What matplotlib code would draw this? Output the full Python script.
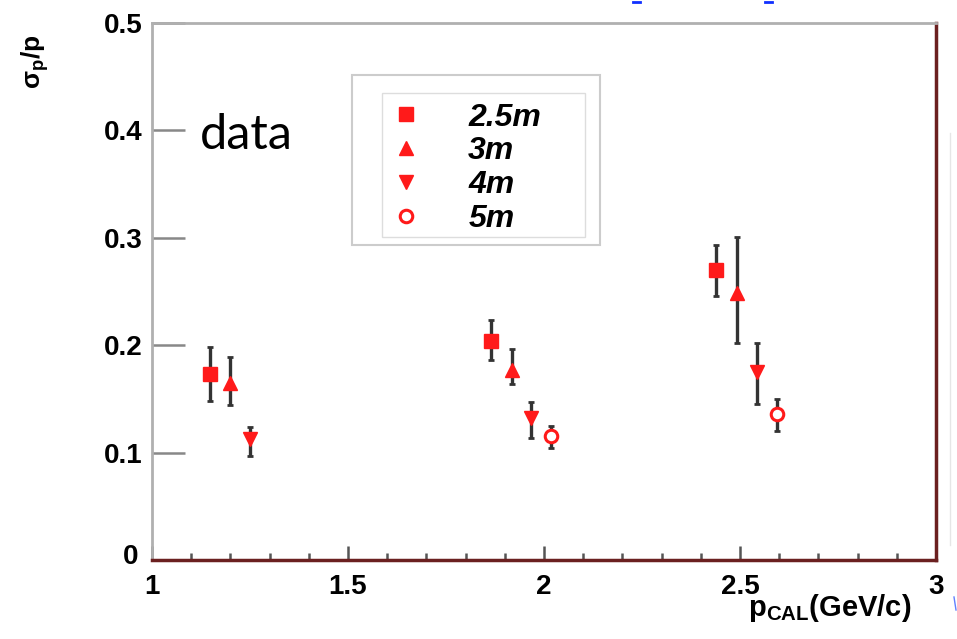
import matplotlib
matplotlib.use("Agg")
import matplotlib.pyplot as plt
from matplotlib.lines import Line2D
from matplotlib.patches import Rectangle
from matplotlib.ticker import MultipleLocator

plt.rcParams["font.family"] = ["Liberation Sans", "DejaVu Sans"]
plt.rcParams["mathtext.fontset"] = "custom"
plt.rcParams["mathtext.rm"] = "Liberation Sans:bold"
plt.rcParams["mathtext.bf"] = "Liberation Sans:bold"
plt.rcParams["mathtext.it"] = "Liberation Sans:bold"

RED = "#ff1a1a"
BAR = "#333333"
GRAY = "#b0b0b0"

# sigma_p / p vs calorimeter momentum, one series per distance
x_25m  = [1.148, 1.865, 2.439]
y_25m  = [0.173, 0.204, 0.270]
lo_25m = [0.148, 0.186, 0.246]
hi_25m = [0.198, 0.223, 0.293]

x_3m  = [1.199, 1.918, 2.492]
y_3m  = [0.165, 0.177, 0.249]
lo_3m = [0.144, 0.164, 0.202]
hi_3m = [0.189, 0.196, 0.301]

x_4m  = [1.250, 1.967, 2.543]
y_4m  = [0.113, 0.132, 0.175]
lo_4m = [0.097, 0.114, 0.145]
hi_4m = [0.124, 0.147, 0.202]

x_5m  = [2.018, 2.594]
y_5m  = [0.115, 0.136]
lo_5m = [0.104, 0.120]
hi_5m = [0.125, 0.150]

labels = ["2.5m", "3m", "4m", "5m"]
xticks = [1, 1.5, 2, 2.5, 3]
yticks = [0, 0.1, 0.2, 0.3, 0.4, 0.5]

fig = plt.figure(figsize=(9.57, 6.39), dpi=100, facecolor="white")
ax = fig.add_axes([152 / 957, 79 / 639, 784 / 957, 537 / 639])


def draw(xs, ys, lo, hi, marker, ms, filled=True):
    err = [[y - l for y, l in zip(ys, lo)], [h - y for y, h in zip(ys, hi)]]
    ax.errorbar(xs, ys, yerr=err, fmt="none", ecolor=BAR, elinewidth=2.4,
                capsize=2.5, capthick=2, zorder=2)
    if filled:
        ax.plot(xs, ys, linestyle="none", marker=marker, ms=ms, color=RED,
                mec=RED, zorder=3)
    else:
        ax.plot(xs, ys, linestyle="none", marker=marker, ms=ms, mfc="white",
                mec=RED, mew=2.2, zorder=3)


draw(x_25m, y_25m, lo_25m, hi_25m, "s", 10.5)
draw(x_3m, y_3m, lo_3m, hi_3m, "^", 9.5)
draw(x_4m, y_4m, lo_4m, hi_4m, "v", 9.5)
draw(x_5m, y_5m, lo_5m, hi_5m, "o", 9, filled=False)

ax.set_xlim(1, 3)
ax.set_ylim(0, 0.5)
ax.set_xticks(xticks)
ax.set_xticklabels(["1", "1.5", "2", "2.5", "3"])
ax.xaxis.set_minor_locator(MultipleLocator(0.1))
ax.set_yticks(yticks)
ax.set_yticklabels(["0", "0.1", "0.2", "0.3", "0.4", "0.5"])
ax.tick_params(axis="y", direction="in", length=24, width=1.8, color="#888888",
               labelsize=20, pad=7)
ax.tick_params(axis="x", which="major", direction="in", length=10, width=1.8,
               color="#555555", labelsize=20, pad=10)
ax.tick_params(axis="x", which="minor", direction="in", length=5, width=1.8,
               color="#555555")
for t in ax.get_xticklabels() + ax.get_yticklabels():
    t.set_fontweight("bold")
ax.get_yticklabels()[0].set_visible(False)
fig.text(131 / 957, 1 - 557 / 639, "0", fontsize=20, fontweight="bold",
         ha="center", va="center")

for side in ("left", "top"):
    ax.spines[side].set_color(GRAY)
    ax.spines[side].set_linewidth(2)
for side in ("right", "bottom"):
    ax.spines[side].set_color("#6b2020")
    ax.spines[side].set_linewidth(2.5)

fig.text(35 / 957, 1 - 62 / 639, r"$\sigma_{p}$/p", rotation=90, fontsize=19,
         fontweight="bold", ha="center", va="center")
fig.text(830 / 957, 1 - 608 / 639, r"p$_{\mathrm{CAL}}$(GeV/c)", fontsize=21,
         fontweight="bold", ha="center", va="center")

fig.text(200 / 957, 1 - 135 / 639, "data", fontsize=35, family=["Lato", "DejaVu Sans"],
         ha="left", va="center")

# legend entries without a frame; both boxes drawn as rectangles
handles = [
    Line2D([], [], ls="none", marker="s", ms=10.5, color=RED),
    Line2D([], [], ls="none", marker="^", ms=9.5, color=RED),
    Line2D([], [], ls="none", marker="v", ms=9.5, color=RED),
    Line2D([], [], ls="none", marker="o", ms=9, mfc="white", mec=RED, mew=2.2),
]
fig.legend(handles, labels, loc="upper left",
           bbox_to_anchor=(382 / 957, 1 - 93 / 639), bbox_transform=fig.transFigure,
           borderaxespad=0, frameon=False,
           prop={"size": 23, "weight": "bold", "style": "italic"},
           handlelength=0.9, handletextpad=1.5, labelspacing=0.12,
           borderpad=0.3)
fig.add_artist(Rectangle((382 / 957, 1 - 237 / 639), 203 / 957, 144 / 639,
                         transform=fig.transFigure, fill=False,
                         edgecolor="#dddddd", linewidth=1))
fig.add_artist(Rectangle((352 / 957, 1 - 245 / 639), 248 / 957, 170 / 639,
                         transform=fig.transFigure, fill=False,
                         edgecolor="#cccccc", linewidth=1.5))

# slide remnants around the plot
fig.add_artist(Line2D([950 / 957, 950 / 957], [1 - 133 / 639, 1 - 545 / 639],
                      transform=fig.transFigure, color="#e6e6e6", lw=1))
for xa, xb in [(633, 640), (765, 772)]:
    fig.add_artist(Line2D([xa / 957, xb / 957], [1 - 2 / 639, 1 - 2 / 639],
                          transform=fig.transFigure, color="#1030ff", lw=2))
fig.add_artist(Line2D([954 / 957, 956 / 957], [1 - 597 / 639, 1 - 610 / 639],
                      transform=fig.transFigure, color="#6080ff", lw=1))

fig.savefig("out.png", dpi=100, facecolor="white")
